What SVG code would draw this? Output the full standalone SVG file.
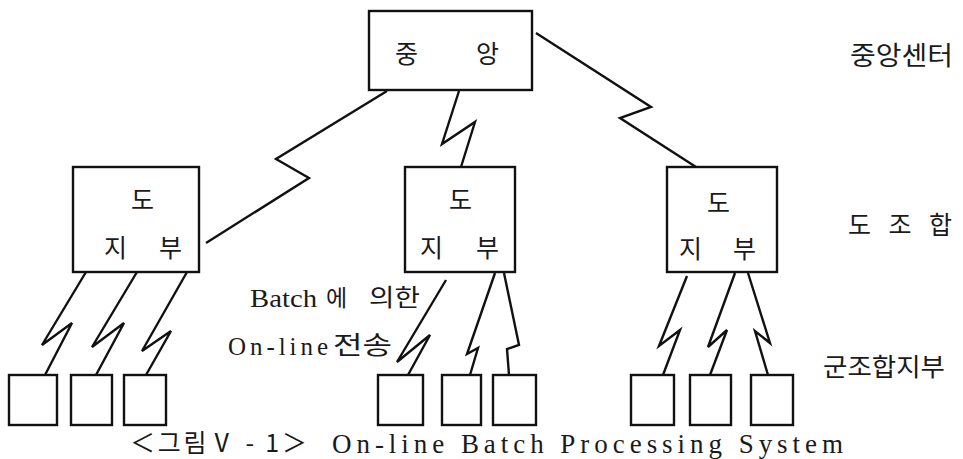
<svg xmlns="http://www.w3.org/2000/svg" width="963" height="459" viewBox="0 0 963 459">
<style>
.box{fill:#fff;stroke:#111;stroke-width:2.4}
.ln{fill:none;stroke:#111;stroke-width:2.4;stroke-linejoin:miter;stroke-linecap:butt}
.ko{font-family:"Noto Sans CJK KR","Noto Sans",sans-serif;fill:#1a1a1a}
.la{font-family:"Liberation Serif",serif;fill:#1a1a1a}
</style>
<rect width="963" height="459" fill="#fff"/>
<g id="connectors" class="ln">
<polyline points="387,91 276,159 309,178 206,243"/>
<polyline points="459,91 442,144 475,122 461,167"/>
<polyline points="536,33 651,107 620,118 696,167"/>
<polyline points="86,272 42,345 72,323 45,375"/>
<polyline points="137,272 92,347 124,323 96,375"/>
<polyline points="187,272 142,351 171,331 146,375"/>
<polyline points="446,280 397,362 430,335 408,375"/>
<polyline points="495,273 467,354 478,348 470,375"/>
<polyline points="504,273 519,345 507,349 509,375"/>
<polyline points="687,276 659,346 680,330 663,375"/>
<polyline points="735,273 708,347 727,330 710,375"/>
<polyline points="748,273 770,343 755,331 768,375"/>
</g>
<g id="center">
<rect class="box" x="369" y="11" width="163" height="79"/>
<text class="ko" x="395" y="63" font-size="25">중</text>
<text class="ko" x="476" y="63" font-size="25">앙</text>
</g>
<g id="branch-left">
<rect class="box" x="73" y="167" width="126" height="105"/>
<text class="ko" x="131" y="209" font-size="25">도</text>
<text class="ko" x="104" y="257" font-size="25">지</text>
<text class="ko" x="159" y="257" font-size="25">부</text>
</g>
<g id="branch-mid">
<rect class="box" x="405" y="167" width="110" height="105"/>
<text class="ko" x="449" y="209" font-size="25">도</text>
<text class="ko" x="420" y="257" font-size="25">지</text>
<text class="ko" x="476" y="257" font-size="25">부</text>
</g>
<g id="branch-right">
<rect class="box" x="667" y="167" width="110" height="105"/>
<text class="ko" x="707" y="212" font-size="25">도</text>
<text class="ko" x="679" y="258" font-size="25">지</text>
<text class="ko" x="733" y="258" font-size="25">부</text>
</g>
<g id="leaf-l1"><rect class="box" x="9" y="375" width="48" height="50"/></g>
<g id="leaf-l2"><rect class="box" x="71" y="375" width="41" height="50"/></g>
<g id="leaf-l3"><rect class="box" x="124" y="375" width="42" height="50"/></g>
<g id="leaf-m1"><rect class="box" x="378" y="375" width="45" height="50"/></g>
<g id="leaf-m2"><rect class="box" x="442" y="375" width="39" height="50"/></g>
<g id="leaf-m3"><rect class="box" x="493" y="375" width="43" height="50"/></g>
<g id="leaf-r1"><rect class="box" x="631" y="375" width="43" height="50"/></g>
<g id="leaf-r2"><rect class="box" x="690" y="375" width="41" height="50"/></g>
<g id="leaf-r3"><rect class="box" x="751" y="375" width="42" height="50"/></g>
<g id="labels">
<text class="ko" x="850" y="65" font-size="26" textLength="103" lengthAdjust="spacingAndGlyphs">중앙센터</text>
<text class="ko" x="848" y="234" font-size="25" textLength="104" lengthAdjust="spacing">도 조 합</text>
<text class="ko" x="823" y="376" font-size="25" textLength="122" lengthAdjust="spacingAndGlyphs">군조합지부</text>
<text class="la" x="250" y="307" font-size="26" textLength="67" lengthAdjust="spacingAndGlyphs">Batch</text>
<text class="ko" x="326" y="306" font-size="23">에</text>
<text class="ko" x="369" y="306" font-size="24" textLength="51" lengthAdjust="spacingAndGlyphs">의한</text>
<text class="la" x="228" y="355" font-size="25" textLength="100" lengthAdjust="spacing">On-line</text>
<text class="ko" x="333" y="354" font-size="25" textLength="59" lengthAdjust="spacingAndGlyphs">전송</text>
</g>
<g id="caption">
<text class="ko" x="130" y="452" font-size="25" textLength="177" lengthAdjust="spacing">＜그림Ⅴ - 1＞</text>
<text class="la" x="332" y="453" font-size="27" textLength="511" lengthAdjust="spacing">On-line Batch Processing System</text>
</g>
</svg>
